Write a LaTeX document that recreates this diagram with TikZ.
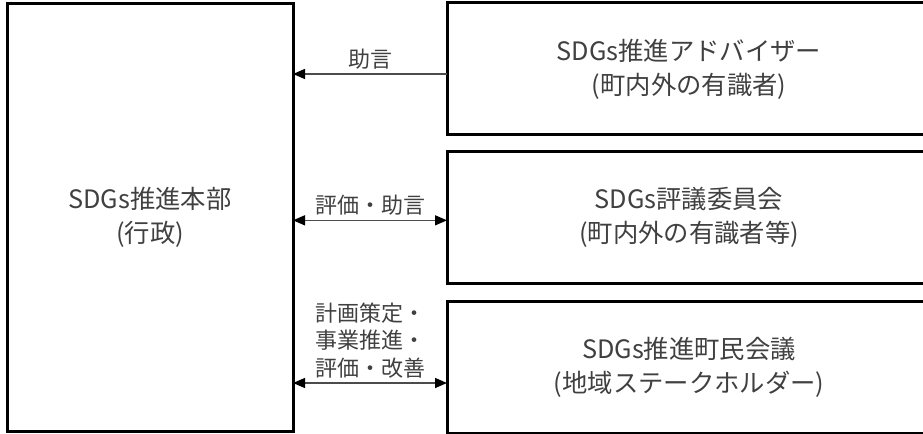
\documentclass[tikz,border=0pt]{standalone}
\usepackage{fontspec}
\setmainfont{Noto Sans CJK JP}
\usetikzlibrary{arrows.meta,positioning}

\begin{document}
\begin{tikzpicture}[x=0.75pt, y=-0.75pt,
    box/.style={rectangle, draw, line width=2.25pt, outer sep=0pt, align=center, text=black!75,
        font=\fontsize{19pt}{25.5pt}\selectfont, minimum width=363pt, minimum height=99pt},
    hqbox/.style={box, minimum width=214.5pt, minimum height=321pt},
    link/.style={draw=black!70, line width=1pt},
    tip/.style={-{Triangle[length=9pt, width=7.5pt, color=black]}},
    bothtips/.style={{Triangle[length=9pt, width=7.5pt, color=black]}-{Triangle[length=9pt, width=7.5pt, color=black]}},
    lbl/.style={above, align=center, text=black!75, font=\fontsize{16.5pt}{20.5pt}\selectfont}]
    \useasboundingbox (0,0) rectangle (923,434);
    \clip (0,0) rectangle (923,434);

    \node (adv) [box] at (689,69) {SDGs推進アドバイザー\\(町内外の有識者)};
    \node (council) [box, below=12.5pt of adv] {SDGs評議委員会\\(町内外の有識者等)};
    \node (citizens) [box, below=13pt of council] {SDGs推進町民会議\\(地域ステークホルダー)};
    \node (hq) [hqbox, left=115.5pt of council] {SDGs推進本部\\(行政)};

    \coordinate (a1) at ([yshift=-3.75pt]adv.west);
    \coordinate (a2) at ([yshift=-2pt]council.west);
    \coordinate (a3) at ([yshift=-12pt]citizens.west);

    \draw[link, tip] (a1) -- (hq.east |- a1) node[lbl, midway] {助言};
    \draw[link, bothtips] (hq.east |- a2) -- (a2) node[lbl, midway] {評価・助言};
    \draw[link, bothtips] (hq.east |- a3) -- (a3) node[lbl, midway] {計画策定・\\事業推進・\\評価・改善};
\end{tikzpicture}
\end{document}
